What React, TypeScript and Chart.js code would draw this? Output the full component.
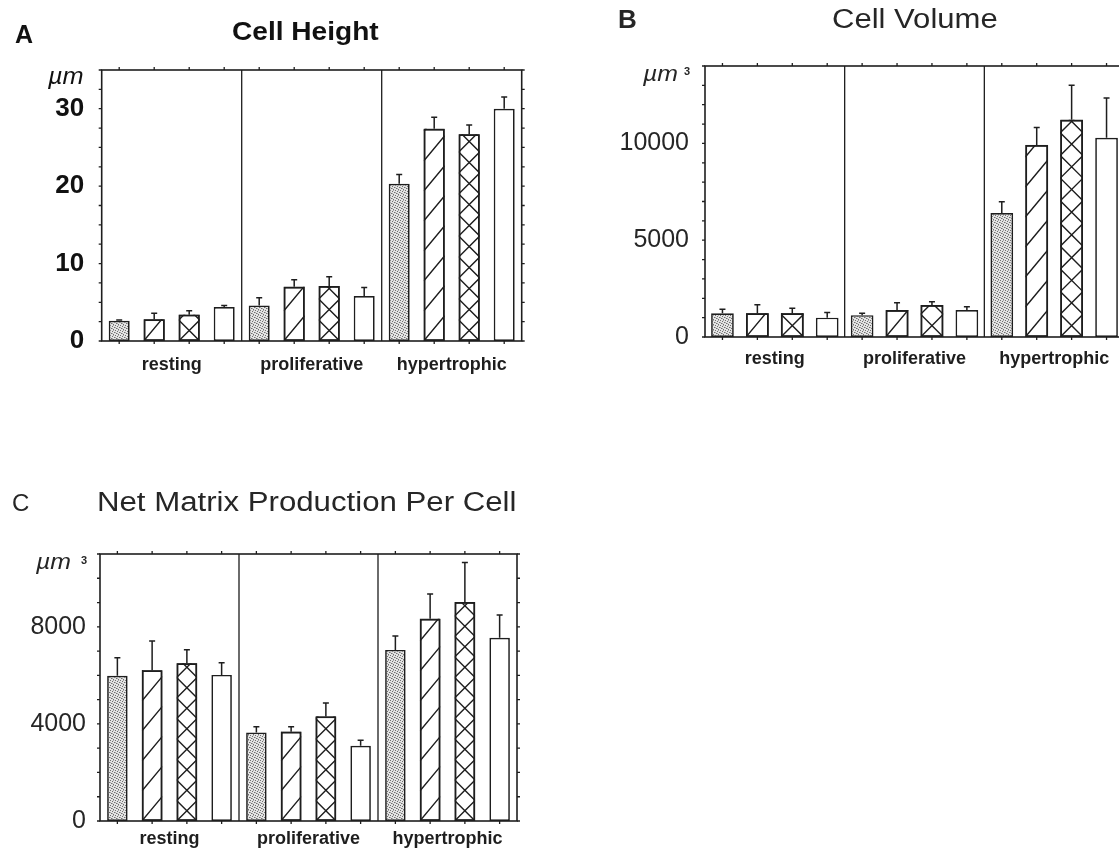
import React, { useEffect, useRef } from "react";
import { Chart, registerables } from "chart.js";

Chart.register(...registerables);

const FONT = "'Liberation Sans', Arial, Helvetica, sans-serif";
const NARROW = "'Liberation Sans Narrow', 'Arial Narrow', 'Liberation Sans', Arial, sans-serif";
const INK = "#1e1e1e";
const GREY_INK = "#262626";

// ---------- data ----------
const categories = ["resting", "proliferative", "hypertrophic"];
const seriesNames = ["stippled", "hatched", "crosshatched", "open"];

// A: Cell Height (µm)
const heightStippled = [2.6, 4.6, 20.3];
const heightHatched = [2.8, 7.0, 27.4];
const heightCross = [3.4, 7.1, 26.7];
const heightOpen = [4.4, 5.8, 30.0];
const heightStippledErr = [0.1, 1.0, 1.2];
const heightHatchedErr = [0.8, 0.9, 1.5];
const heightCrossErr = [0.5, 1.2, 1.2];
const heightOpenErr = [0.2, 1.1, 1.5];
const heightTickLabels = [0, 10, 20, 30];

// B: Cell Volume (µm³)
const volumeStippled = [1230, 1130, 6400];
const volumeHatched = [1230, 1390, 9920];
const volumeCross = [1230, 1650, 11220];
const volumeOpen = [1000, 1390, 10290];
const volumeStippledErr = [210, 100, 590];
const volumeHatchedErr = [430, 380, 900];
const volumeCrossErr = [260, 170, 1780];
const volumeOpenErr = [260, 170, 2060];
const volumeTickLabels = [0, 5000, 10000];

// C: Net Matrix Production Per Cell (µm³)
const matrixStippled = [5980, 3650, 7050];
const matrixHatched = [6210, 3680, 8330];
const matrixCross = [6500, 4310, 9020];
const matrixOpen = [6020, 3100, 7550];
const matrixStippledErr = [745, 230, 570];
const matrixHatchedErr = [1210, 200, 1020];
const matrixCrossErr = [555, 555, 1630];
const matrixOpenErr = [500, 230, 935];
const matrixTickLabels = [0, 4000, 8000];

// ---------- drawing helpers ----------
function makeStipple(): CanvasPattern | string {
  const c = document.createElement("canvas");
  c.width = 5;
  c.height = 5;
  const g = c.getContext("2d");
  if (!g) return "#c4c4c4";
  g.fillStyle = "#e4e4e4";
  g.fillRect(0, 0, 5, 5);
  g.fillStyle = "#707070";
  const dots = [
    [0, 0],
    [2, 1],
    [4, 2],
    [1, 3],
    [3, 4],
  ];
  dots.forEach(([dx, dy]) => g.fillRect(dx, dy, 1, 1));
  g.fillStyle = "#a8a8a8";
  const soft = [
    [3, 0],
    [0, 2],
    [2, 3],
  ];
  soft.forEach(([dx, dy]) => g.fillRect(dx, dy, 1, 1));
  const p = g.createPattern(c, "repeat");
  return p || "#c4c4c4";
}

const figurePlugin = {
  id: "figure",
  afterDatasetsDraw(chart: any) {
    const { ctx, chartArea: ca, scales } = chart;
    const xs = scales.x;
    const ys = scales.y;
    ctx.save();
    ctx.strokeStyle = INK;
    ctx.lineCap = "butt";
    const centers: number[] = [];

    chart.data.datasets.forEach((ds: any, di: number) => {
      const meta = chart.getDatasetMeta(di);
      meta.data.forEach((el: any, i: number) => {
        const p = el.getProps(["x", "y", "base", "width"], true);
        const left = p.x - p.width / 2;
        const right = p.x + p.width / 2;
        const top = Math.min(p.y, p.base);
        const bottom = Math.max(p.y, p.base);
        const w = right - left;
        centers.push(p.x);

        if (ds.pattern === "hatch" || ds.pattern === "cross") {
          ctx.save();
          ctx.beginPath();
          ctx.rect(left, top, w, bottom - top);
          ctx.clip();
          ctx.lineWidth = 1.4;
          ctx.beginPath();
          if (ds.pattern === "hatch") {
            const period = 30;
            const rise = w * 1.2;
            for (let yy = bottom; yy > top - rise; yy -= period) {
              ctx.moveTo(left, yy);
              ctx.lineTo(right, yy - rise);
            }
          } else {
            const period = w;
            for (let yy = bottom; yy > top - period; yy -= period) {
              ctx.moveTo(left, yy);
              ctx.lineTo(right, yy - period);
              ctx.moveTo(right, yy);
              ctx.lineTo(left, yy - period);
            }
          }
          ctx.stroke();
          ctx.restore();
          ctx.lineWidth = 1.7;
          ctx.strokeRect(left + 0.85, top + 0.85, w - 1.7, bottom - top - 1.7);
        }

        // upward error bar
        const err = ds.errors[i];
        if (err > 0) {
          const ye = ys.getPixelForValue(ds.data[i] + err);
          ctx.lineWidth = 1.5;
          ctx.beginPath();
          ctx.moveTo(p.x, top);
          ctx.lineTo(p.x, ye);
          ctx.moveTo(p.x - 3, ye);
          ctx.lineTo(p.x + 3, ye);
          ctx.stroke();
        }
      });
    });

    // frame
    ctx.lineWidth = 1.6;
    ctx.strokeRect(ca.left, ca.top, ca.right - ca.left, ca.bottom - ca.top);

    // group dividers
    ctx.lineWidth = 1.3;
    ctx.beginPath();
    for (let i = 0; i < chart.data.labels.length - 1; i++) {
      const xb = (xs.getPixelForValue(i) + xs.getPixelForValue(i + 1)) / 2;
      ctx.moveTo(xb, ca.top);
      ctx.lineTo(xb, ca.bottom);
    }
    ctx.stroke();

    // tick marks
    ctx.lineWidth = 1.3;
    ctx.beginPath();
    ys.ticks.forEach((t: any) => {
      const py = ys.getPixelForValue(t.value);
      ctx.moveTo(ca.left - 3, py);
      ctx.lineTo(ca.left, py);
      ctx.moveTo(ca.right, py);
      ctx.lineTo(ca.right + 3, py);
    });
    centers.forEach((cx) => {
      ctx.moveTo(cx, ca.top - 3);
      ctx.lineTo(cx, ca.top);
      ctx.moveTo(cx, ca.bottom);
      ctx.lineTo(cx, ca.bottom + 3);
    });
    ctx.stroke();
    ctx.restore();
  },
};

type Spec = {
  left: number;
  top: number;
  w: number;
  h: number;
  area: { left: number; top: number; right: number; bottom: number };
  max: number;
  step: number;
  labels: number[];
  series: number[][];
  errors: number[][];
  tickFont: any;
  tickColor: string;
  yPad: number;
  xPad: number;
  barPct: number;
};

function buildConfig(spec: Spec): any {
  const stipple = makeStipple();
  const patterns = ["stipple", "hatch", "cross", "open"];
  const datasets = spec.series.map((vals, k) => ({
    label: seriesNames[k],
    data: vals,
    errors: spec.errors[k],
    pattern: patterns[k],
    backgroundColor: k === 0 ? stipple : "#ffffff",
    borderColor: INK,
    borderWidth: 1.7,
    borderSkipped: false,
    barPercentage: spec.barPct,
    categoryPercentage: 1,
  }));
  return {
    type: "bar",
    data: { labels: categories, datasets },
    options: {
      responsive: false,
      maintainAspectRatio: false,
      animation: false,
      layout: {
        padding: { left: 0, top: spec.area.top, right: spec.w - spec.area.right, bottom: 0 },
      },
      plugins: {
        legend: { display: false },
        tooltip: { enabled: false },
        title: { display: false },
      },
      scales: {
        x: {
          type: "category",
          offset: true,
          grid: { display: false, drawTicks: false },
          border: { display: false },
          ticks: {
            color: INK,
            font: { family: FONT, size: 18, weight: "bold" },
            padding: spec.xPad,
            maxRotation: 0,
            autoSkip: false,
          },
          afterFit: (s: any) => {
            s.height = spec.h - spec.area.bottom;
          },
        },
        y: {
          type: "linear",
          min: 0,
          max: spec.max,
          grid: { display: false, drawTicks: false },
          border: { display: false },
          ticks: {
            stepSize: spec.step,
            autoSkip: false,
            padding: spec.yPad,
            color: spec.tickColor,
            font: spec.tickFont,
            callback: (v: any) => (spec.labels.includes(Number(v)) ? String(v) : ""),
          },
          afterFit: (s: any) => {
            s.width = spec.area.left;
          },
        },
      },
    },
    plugins: [figurePlugin],
  };
}

const specA: Spec = {
  left: 0,
  top: 0,
  w: 560,
  h: 400,
  area: { left: 101.7, top: 70, right: 521.7, bottom: 341 },
  max: 35,
  step: 2.5,
  labels: heightTickLabels,
  series: [heightStippled, heightHatched, heightCross, heightOpen],
  errors: [heightStippledErr, heightHatchedErr, heightCrossErr, heightOpenErr],
  tickFont: { family: NARROW, size: 26, weight: "bold" },
  tickColor: "#111111",
  yPad: 17.5,
  xPad: 13,
  barPct: 0.6,
};

const specB: Spec = {
  left: 580,
  top: 0,
  w: 580,
  h: 400,
  area: { left: 125, top: 66, right: 544, bottom: 337 },
  max: 14000,
  step: 1000,
  labels: volumeTickLabels,
  series: [volumeStippled, volumeHatched, volumeCross, volumeOpen],
  errors: [volumeStippledErr, volumeHatchedErr, volumeCrossErr, volumeOpenErr],
  tickFont: { family: FONT, size: 25, weight: "normal" },
  tickColor: GREY_INK,
  yPad: 16,
  xPad: 11,
  barPct: 0.65,
};

const specC: Spec = {
  left: 0,
  top: 470,
  w: 560,
  h: 380,
  area: { left: 100, top: 84, right: 517, bottom: 353 },
  max: 11000,
  step: 1000,
  labels: matrixTickLabels,
  series: [matrixStippled, matrixHatched, matrixCross, matrixOpen],
  errors: [matrixStippledErr, matrixHatchedErr, matrixCrossErr, matrixOpenErr],
  tickFont: { family: FONT, size: 25, weight: "normal" },
  tickColor: GREY_INK,
  yPad: 14,
  xPad: 7,
  barPct: 0.59,
};

function Panel({ spec }: { spec: Spec }) {
  const ref = useRef<HTMLCanvasElement | null>(null);
  useEffect(() => {
    if (!ref.current) return;
    const chart = new Chart(ref.current, buildConfig(spec));
    return () => chart.destroy();
  }, [spec]);
  return (
    <canvas
      ref={ref}
      width={spec.w}
      height={spec.h}
      style={{ position: "absolute", left: spec.left, top: spec.top, width: spec.w, height: spec.h }}
    />
  );
}

function Txt(props: {
  x: number;
  base: number;
  size: number;
  bold?: boolean;
  italic?: boolean;
  sx?: number;
  color?: string;
  children: React.ReactNode;
}) {
  const { x, base, size, bold, italic, sx, color, children } = props;
  return (
    <div
      style={{
        position: "absolute",
        left: x,
        top: base - 0.8465 * size,
        fontFamily: FONT,
        fontSize: size,
        lineHeight: `${size}px`,
        fontWeight: bold ? "bold" : "normal",
        fontStyle: italic ? "italic" : "normal",
        color: color || INK,
        whiteSpace: "nowrap",
        transform: sx ? `scaleX(${sx})` : undefined,
        transformOrigin: "left center",
      }}
    >
      {children}
    </div>
  );
}

export default function App() {
  return (
    <div
      style={{
        position: "fixed",
        left: 0,
        top: 0,
        width: 1119,
        height: 850,
        overflow: "hidden",
        background: "#ffffff",
      }}
    >
      <Panel spec={specA} />
      <Panel spec={specB} />
      <Panel spec={specC} />

      {/* Panel A texts */}
      <Txt x={15} base={43} size={25} bold color="#111">A</Txt>
      <Txt x={232} base={40} size={26} bold sx={1.08} color="#111">Cell Height</Txt>
      <Txt x={48} base={84} size={23} italic sx={1.1} color="#111">µm</Txt>

      {/* Panel B texts */}
      <Txt x={618} base={28} size={26} bold color={GREY_INK}>B</Txt>
      <Txt x={832} base={29} size={27} sx={1.15} color={GREY_INK}>Cell Volume</Txt>
      <Txt x={643} base={82} size={22} italic sx={1.13} color={GREY_INK}>µm</Txt>
      <Txt x={684} base={75} size={11} bold color={GREY_INK}>3</Txt>

      {/* Panel C texts */}
      <Txt x={12} base={511} size={24} color={GREY_INK}>C</Txt>
      <Txt x={97} base={512} size={27} sx={1.155} color={GREY_INK}>Net Matrix Production Per Cell</Txt>
      <Txt x={36} base={570} size={22} italic sx={1.13} color={GREY_INK}>µm</Txt>
      <Txt x={81} base={564} size={11} bold color={GREY_INK}>3</Txt>
    </div>
  );
}
